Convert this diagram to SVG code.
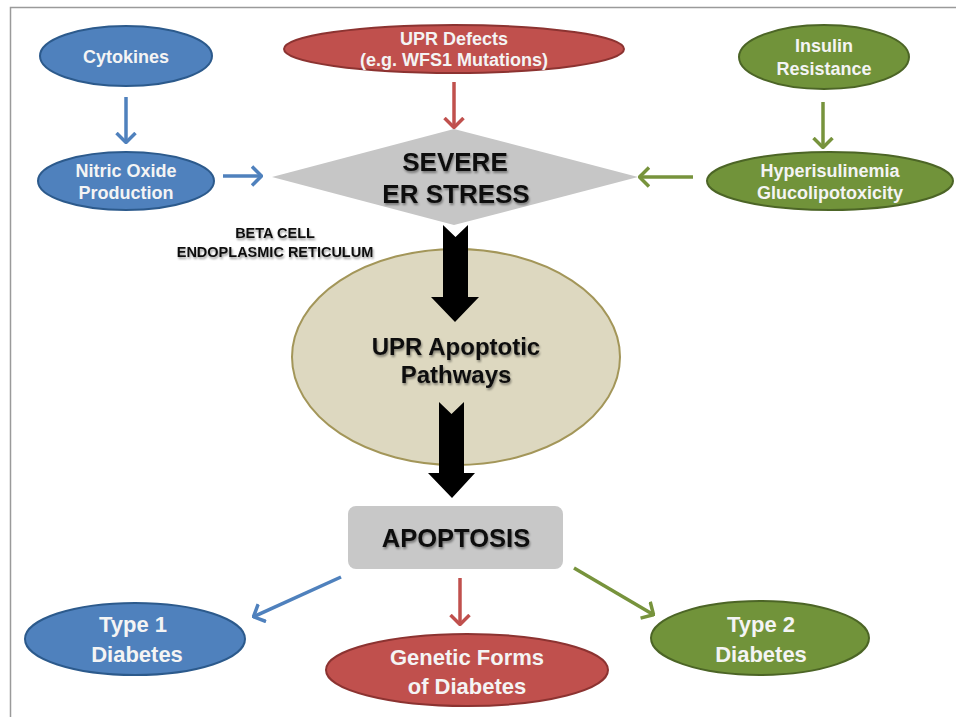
<svg xmlns="http://www.w3.org/2000/svg" width="956" height="717" viewBox="0 0 956 717">
<defs>
<style>
.lbl{font-family:"Liberation Sans",Arial,sans-serif;font-weight:bold;text-anchor:middle}
.w{fill:#f4f4f4;font-size:18px}
.wb{fill:#f4f4f4;font-size:22px}
.k{fill:#111;filter:url(#ts)}
.blue{fill:#4f81bd;stroke:#2c5a8c;stroke-width:2}
.red{fill:#c0504d;stroke:#8c3331;stroke-width:2}
.green{fill:#71933a;stroke:#4c6526;stroke-width:2}
.ab{stroke:#4f81bd;stroke-width:3.5;fill:none;marker-end:url(#mb)}
.ar{stroke:#c0504d;stroke-width:3.5;fill:none;marker-end:url(#mr)}
.ag{stroke:#77933c;stroke-width:3.5;fill:none;marker-end:url(#mg)}
</style>
<filter id="ts" x="-10%" y="-20%" width="130%" height="150%">
<feGaussianBlur in="SourceAlpha" stdDeviation="1.2"/>
<feOffset dx="1" dy="1.5" result="b"/>
<feFlood flood-color="#000" flood-opacity="0.4"/>
<feComposite in2="b" operator="in"/>
<feMerge><feMergeNode/><feMergeNode in="SourceGraphic"/></feMerge>
</filter>
<marker id="mb" viewBox="0 0 12 22" refX="11" refY="11" markerWidth="12" markerHeight="22" markerUnits="userSpaceOnUse" orient="auto">
<path d="M1,1.5 L10.5,11 L1,20.5" fill="none" stroke="#4f81bd" stroke-width="3.5"/>
</marker>
<marker id="mr" viewBox="0 0 12 22" refX="11" refY="11" markerWidth="12" markerHeight="22" markerUnits="userSpaceOnUse" orient="auto">
<path d="M1,1.5 L10.5,11 L1,20.5" fill="none" stroke="#c0504d" stroke-width="3.5"/>
</marker>
<marker id="mg" viewBox="0 0 12 22" refX="11" refY="11" markerWidth="12" markerHeight="22" markerUnits="userSpaceOnUse" orient="auto">
<path d="M1,1.5 L10.5,11 L1,20.5" fill="none" stroke="#77933c" stroke-width="3.5"/>
</marker>
</defs>
<rect width="956" height="717" fill="#fff"/>
<path d="M10.5,717 V7.5 H956" fill="none" stroke="#9a9a9a" stroke-width="1.5"/>

<g id="er-ellipse">
<ellipse cx="456" cy="357" rx="164" ry="108" fill="#ddd8c0" stroke="#a39659" stroke-width="2"/>
<text class="lbl k" font-size="24" x="456" y="355">UPR Apoptotic</text>
<text class="lbl k" font-size="24" x="456" y="383">Pathways</text>
</g>

<g id="beta-cell-label">
<text class="lbl k" font-size="14.5" x="275" y="238">BETA CELL</text>
<text class="lbl k" font-size="14.5" x="275" y="257">ENDOPLASMIC RETICULUM</text>
</g>

<g id="cytokines">
<ellipse class="blue" cx="126" cy="56" rx="86" ry="30"/>
<text class="lbl w" x="126" y="63">Cytokines</text>
</g>
<g id="nitric-oxide">
<ellipse class="blue" cx="126" cy="181" rx="88" ry="29"/>
<text class="lbl w" x="126" y="177">Nitric Oxide</text>
<text class="lbl w" x="126" y="199">Production</text>
</g>
<g id="upr-defects">
<ellipse class="red" cx="454" cy="49" rx="170" ry="24"/>
<text class="lbl w" font-size="17" x="454" y="45">UPR Defects</text>
<text class="lbl w" font-size="17" x="454" y="66">(e.g. WFS1 Mutations)</text>
</g>
<g id="insulin-resistance">
<ellipse class="green" cx="824" cy="57" rx="85" ry="32"/>
<text class="lbl w" x="824" y="52">Insulin</text>
<text class="lbl w" x="824" y="75">Resistance</text>
</g>
<g id="hyperinsulinemia">
<ellipse class="green" cx="830" cy="181" rx="123" ry="29"/>
<text class="lbl w" x="830" y="177">Hyperisulinemia</text>
<text class="lbl w" x="830" y="199">Glucolipotoxicity</text>
</g>

<g id="connectors">
<line class="ab" x1="126" y1="97" x2="126" y2="143"/>
<line class="ab" x1="223" y1="176" x2="262" y2="176"/>
<line class="ar" x1="454" y1="82" x2="454" y2="128"/>
<line class="ag" x1="823" y1="102" x2="823" y2="148"/>
<line class="ag" x1="693" y1="177" x2="639" y2="177"/>
<line class="ab" x1="341" y1="577" x2="253" y2="617"/>
<line class="ar" x1="460" y1="578" x2="460" y2="625"/>
<line class="ag" x1="574" y1="568" x2="654" y2="615"/>
<path d="M443,225 L455.5,237 L468,225 L468,297 L479,297 L455,322 L431,297 L443,297 Z" fill="#000"/>
<path d="M439,402 L451.5,414 L464,402 L464,473 L475,473 L452,498 L428,473 L439,473 Z" fill="#000"/>
</g>

<g id="severe-er-stress">
<polygon points="272,177 454,129 638,177 454,225" fill="#c6c6c6"/>
<text class="lbl k" font-size="26" x="455" y="171">SEVERE</text>
<text class="lbl k" font-size="26" x="456" y="203">ER STRESS</text>
</g>

<g id="apoptosis">
<rect x="348" y="506" width="215" height="63" rx="8" fill="#c8c8c8"/>
<text class="lbl k" font-size="25.5" x="456" y="547">APOPTOSIS</text>
</g>

<g id="type1">
<ellipse class="blue" cx="135" cy="639" rx="110" ry="36"/>
<text class="lbl wb" x="133" y="632">Type 1</text>
<text class="lbl wb" x="137" y="662">Diabetes</text>
</g>
<g id="genetic-forms">
<ellipse class="red" cx="467" cy="670" rx="141" ry="36"/>
<text class="lbl wb" x="467" y="665">Genetic Forms</text>
<text class="lbl wb" x="467" y="694">of Diabetes</text>
</g>
<g id="type2">
<ellipse class="green" cx="760" cy="638" rx="109" ry="37"/>
<text class="lbl wb" x="761" y="632">Type 2</text>
<text class="lbl wb" x="761" y="662">Diabetes</text>
</g>
</svg>
